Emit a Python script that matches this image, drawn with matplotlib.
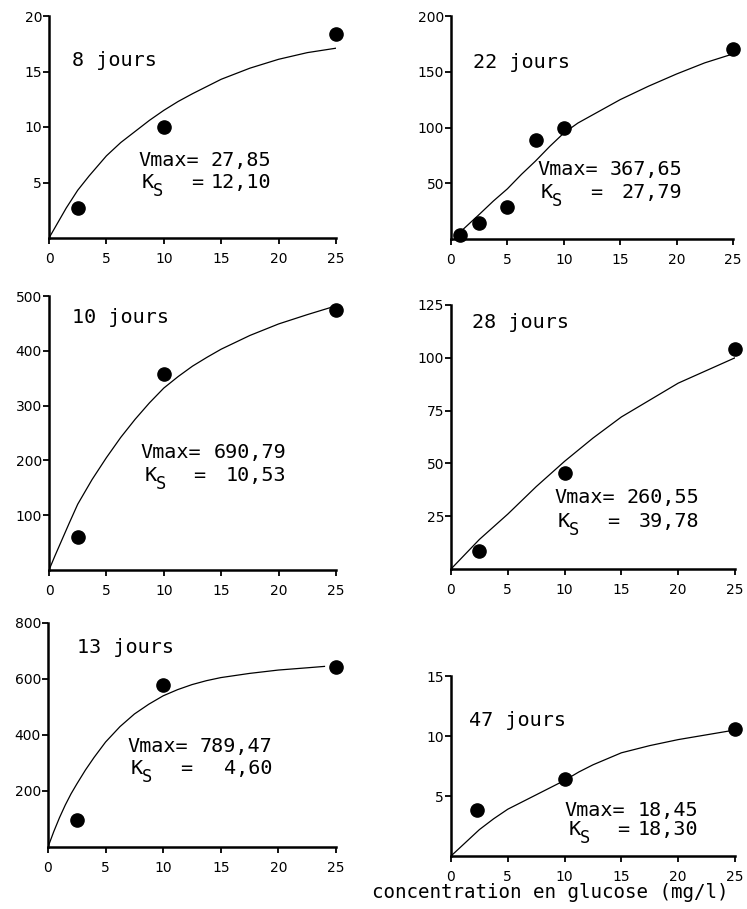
import matplotlib
matplotlib.use("Agg")
import matplotlib.pyplot as plt

# --- data ---
titles = ["8 jours", "22 jours", "10 jours", "28 jours", "13 jours", "47 jours"]
vmax_txt = ["27,85", "367,65", "690,79", "260,55", "789,47", "18,45"]
ks_txt = ["12,10", "27,79", "10,53", "39,78", "4,60", "18,30"]

pts_x = [
    [2.5, 10, 25],
    [0.8, 2.5, 5, 7.5, 10, 25],
    [2.5, 10, 25],
    [2.5, 10, 25],
    [2.5, 10, 25],
    [2.3, 10, 25],
]
pts_y = [
    [2.7, 10, 18.4],
    [4, 14, 29, 89, 100, 170],
    [60, 357, 475],
    [8.5, 45.6, 104],
    [95, 578, 643],
    [3.8, 6.4, 10.6],
]

# fitted curves
curve_x = [
    [0, 0.5, 1, 1.5, 2.5, 3.5, 5, 6.25, 7.5, 8.75, 10, 11.25, 12.5, 15, 17.5, 20, 22.5, 25],
    [1, 2.5, 3.75, 5, 6.25, 7.5, 8.75, 10, 11.25, 12.5, 13.75, 15, 17.5, 20, 22.5, 25],
    [0, 0.5, 1, 1.75, 2.5, 3.75, 5, 6.25, 7.5, 8.75, 10, 11.25, 12.5, 13.75, 15, 17.5, 20, 22.5, 25],
    [0, 2.5, 5, 7.5, 10, 12.5, 15, 17.5, 20, 22.5, 25],
    [0, 0.5, 1, 1.5, 2, 2.5, 3.25, 4, 5, 6.25, 7.5, 8.75, 10, 11.25, 12.5, 13.75, 15, 17.5, 20, 22.5, 24],
    [0, 1.25, 2.5, 3.75, 5, 6.25, 7.5, 8.75, 10, 11.25, 12.5, 13.75, 15, 17.5, 20, 22.5, 25],
]
curve_y = [
    [0, 0.9, 1.8, 2.7, 4.3, 5.6, 7.4, 8.6, 9.6, 10.6, 11.5, 12.3, 13.0, 14.3, 15.3, 16.1, 16.7, 17.1],
    [8, 22, 34, 45, 58, 70, 83, 95, 104, 111, 118, 125, 137, 148, 158, 166],
    [0, 25, 49, 85, 120, 165, 205, 242, 275, 305, 332, 353, 372, 388, 403, 428, 449, 466, 482],
    [0, 14, 26, 39, 51, 62, 72, 80, 88, 94, 100],
    [0, 55, 105, 150, 190, 225, 275, 320, 375, 430, 475, 510, 540, 562, 580, 594, 605, 620, 632, 640, 645],
    [0, 1.1, 2.2, 3.1, 3.9, 4.5, 5.1, 5.7, 6.3, 7.0, 7.6, 8.1, 8.6, 9.2, 9.7, 10.1, 10.5],
]

yticks = [
    [5, 10, 15, 20],
    [50, 100, 150, 200],
    [100, 200, 300, 400, 500],
    [25, 50, 75, 100, 125],
    [200, 400, 600, 800],
    [5, 10, 15],
]

# axes boxes in pixels: left, right, top, bottom
boxes = [
    (49, 336, 16, 238),
    (451, 733, 16, 239),
    (49, 336, 296, 570),
    (451, 735, 305, 569),
    (48, 336, 623, 847),
    (451, 735, 676, 856),
]
title_pos = [(0.08, 0.80), (0.078, 0.79), (0.08, 0.92), (0.074, 0.935), (0.10, 0.89), (0.063, 0.755)]
ann_pos = [(0.31, 0.35), (0.305, 0.31), (0.32, 0.43), (0.363, 0.27), (0.275, 0.45), (0.40, 0.255)]
ann_gap = [0.10, 0.10, 0.085, 0.09, 0.10, 0.11]

W, H = 747, 909
fig = plt.figure(figsize=(W / 100, H / 100), dpi=100)
mono = "DejaVu Sans Mono"
fs = 14.5
cw = 0.602 * fs  # char width in points

for i in range(6):
    l, r, t, b = boxes[i]
    ax = fig.add_axes([l / W, 1 - b / H, (r - l) / W, (b - t) / H])
    ax.plot(curve_x[i], curve_y[i], color="black", lw=0.9)
    ax.plot(pts_x[i], pts_y[i], "o", color="black", ms=9.5, clip_on=False, zorder=5)
    ax.set_xlim(0, 25)
    ax.set_ylim(0, yticks[i][-1])
    ax.set_xticks([0, 5, 10, 15, 20, 25])
    ax.set_yticks(yticks[i])
    for s in ["top", "right"]:
        ax.spines[s].set_visible(False)
    for s in ["left", "bottom"]:
        ax.spines[s].set_linewidth(1.8)
    ax.tick_params(axis="both", direction="out", length=4, width=1.3, labelsize=10)
    ax.tick_params(axis="y", pad=1)
    ax.tick_params(axis="x", pad=6)

    ax.text(title_pos[i][0], title_pos[i][1], titles[i], transform=ax.transAxes,
            family=mono, fontsize=fs, va="center", ha="left")

    fx, fy = ann_pos[i]
    right = (6 + max(len(vmax_txt[i]), 5)) * cw
    ax.annotate("Vmax=", xy=(fx, fy), xycoords="axes fraction", xytext=(0, 0),
                textcoords="offset points", family=mono, fontsize=fs, va="center", ha="left")
    ax.annotate(vmax_txt[i], xy=(fx, fy), xycoords="axes fraction", xytext=(right, 0),
                textcoords="offset points", family=mono, fontsize=fs, va="center", ha="right")
    fy2 = fy - ann_gap[i]
    ax.annotate("K", xy=(fx, fy2), xycoords="axes fraction", xytext=(0.3 * cw, 0),
                textcoords="offset points", family=mono, fontsize=fs, va="center", ha="left")
    ax.annotate("S", xy=(fx, fy2), xycoords="axes fraction", xytext=(1.25 * cw, -6),
                textcoords="offset points", family=mono, fontsize=fs * 0.85, va="center", ha="left")
    ax.annotate("=", xy=(fx, fy2), xycoords="axes fraction", xytext=(4.35 * cw, 0),
                textcoords="offset points", family=mono, fontsize=fs, va="center", ha="left")
    ax.annotate(ks_txt[i], xy=(fx, fy2), xycoords="axes fraction", xytext=(right, 0),
                textcoords="offset points", family=mono, fontsize=fs, va="center", ha="right")

fig.text(372 / W, 1 - 893 / H, "concentration en glucose (mg/l)", family=mono,
         fontsize=13.8, va="center", ha="left")

fig.savefig("out.png", dpi=100)
